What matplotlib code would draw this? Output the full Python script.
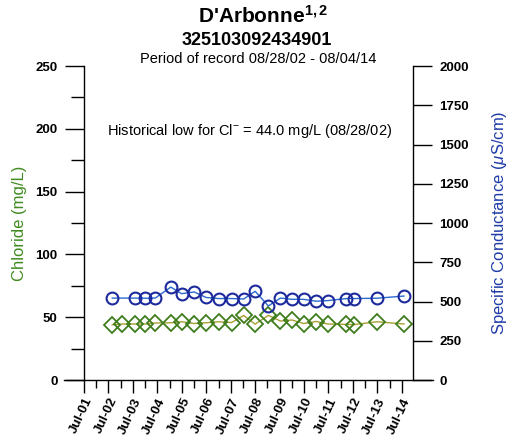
import numpy as np
import pandas as pd
import matplotlib
matplotlib.use("Agg")
import matplotlib.pyplot as plt
import matplotlib.dates as mdates

plt.rcParams['font.family'] = ['Liberation Sans', 'DejaVu Sans']
plt.rcParams['mathtext.fontset'] = 'custom'
plt.rcParams['mathtext.rm'] = 'Liberation Sans'
plt.rcParams['mathtext.it'] = 'Liberation Sans:italic'
plt.rcParams['mathtext.bf'] = 'Liberation Sans:bold'

# chloride samples (mg/L)
cl_dates = ["2002-08-28", "2003-01-27", "2003-07-30", "2004-01-05", "2004-05-30",
            "2005-01-18", "2005-06-28", "2006-01-02", "2006-06-28", "2007-01-01",
            "2007-07-16", "2008-01-12", "2008-07-01", "2009-01-15", "2009-07-13",
            "2010-01-02", "2010-06-25", "2011-01-01", "2011-06-21", "2012-03-25",
            "2012-07-16", "2013-06-25", "2014-08-04"]
chloride = [44.0, 44.6, 44.6, 44.6, 45.4,
            45.6, 46.4, 45.0, 45.6, 46.4,
            45.8, 51.4, 44.5, 51.5, 47.0,
            47.8, 45.0, 46.6, 44.6, 44.3,
            44.1, 46.4, 44.6]

# specific conductance samples (uS/cm)
sc_dates = ["2002-08-28", "2003-07-30", "2004-01-05", "2004-05-30",
            "2005-01-18", "2005-06-28", "2006-01-02", "2006-06-28", "2007-01-01",
            "2007-07-16", "2008-01-12", "2008-07-01", "2009-01-15", "2009-07-13",
            "2010-01-02", "2010-06-25", "2011-01-01", "2011-06-21", "2012-03-25",
            "2012-07-16", "2013-06-25", "2014-08-04"]
conductance = [522, 522, 521, 522,
               592, 550, 561, 526, 519,
               519, 516, 565, 472, 522,
               514, 514, 502, 506, 519,
               519, 521, 535]

cl_x = pd.to_datetime(cl_dates)
sc_x = pd.to_datetime(sc_dates)

fig = plt.figure(figsize=(5.1, 4.45), dpi=100)
ax = fig.add_axes([0.1647, 0.146, 0.645, 0.7056])
ax2 = ax.twinx()

ax.plot(cl_x, chloride, color='#a8a030', lw=1, marker='D', ms=8.5,
        mfc='none', mec='#3f7d1c', mew=1.3, zorder=3)
ax2.plot(sc_x, conductance, color='#2a6ad0', lw=1, marker='o', ms=8.5,
         mfc='none', mec='#1c2a9c', mew=1.5, zorder=3)

ax.set_ylim(0, 250)
ax2.set_ylim(0, 2000)
ax.set_xlim(pd.Timestamp("2001-07-01"), pd.Timestamp("2014-12-15"))

ax.set_yticks(np.arange(0, 251, 50))
ax.set_yticks(np.arange(0, 251, 25), minor=True)
ax2.set_yticks(np.arange(0, 2001, 250))

ax.xaxis.set_major_locator(mdates.MonthLocator(bymonth=7))
ax.xaxis.set_minor_locator(mdates.MonthLocator(bymonth=1))
ax.xaxis.set_major_formatter(mdates.DateFormatter('%b-%y'))

for s in ['top', 'right', 'bottom']:
    ax.spines[s].set_visible(False)
for s in ['top', 'left', 'bottom']:
    ax2.spines[s].set_visible(False)
ax.spines['left'].set_linewidth(1)
ax2.spines['right'].set_linewidth(1)

# x axis line runs past both y axes
ax.plot([-0.0606, 1.0606], [0, 0], transform=ax.transAxes, color='black',
        lw=1, clip_on=False, zorder=5)

ax.tick_params(axis='y', which='major', direction='out', length=14, width=1,
               pad=5, labelsize=9.5)
ax.tick_params(axis='y', which='minor', direction='out', length=9.5, width=1)
ax2.tick_params(axis='y', which='major', direction='out', length=14, width=1,
                pad=5, labelsize=9.5)
ax.tick_params(axis='x', which='major', direction='out', length=9.5, width=1,
               pad=2, labelsize=9.5)
ax.tick_params(axis='x', which='minor', direction='out', length=5.5, width=1)

for lab in ax.get_yticklabels() + ax2.get_yticklabels():
    lab.set_fontweight('bold')
for lab in ax.get_xticklabels():
    lab.set_fontweight('bold')
    lab.set_rotation(65)
    lab.set_ha('right')
    lab.set_va('top')
    lab.set_rotation_mode('anchor')

ax.set_ylabel("Chloride (mg/L)", color='#3f8c1f', fontsize=12, labelpad=6)
ax2.set_ylabel("Specific Conductance ($\\mu$S/cm)", color='#1f3ca8',
               fontsize=12, labelpad=15)

fig.text(0.516, 0.948, "D'Arbonne$^{\\mathbf{1,2}}$", ha='center',
         va='baseline', fontsize=15, fontweight='bold')
fig.text(0.504, 0.899, "325103092434901", ha='center', va='baseline',
         fontsize=13, fontweight='bold')
fig.text(0.506, 0.858, "Period of record 08/28/02 - 08/04/14", ha='center',
         va='baseline', fontsize=10.5)

ax.text(0.07, 0.78, "Historical low for Cl$^{-}$ = 44.0 mg/L (08/28/02)",
        transform=ax.transAxes, fontsize=10.5, va='baseline')

fig.savefig("out.png", dpi=100)
